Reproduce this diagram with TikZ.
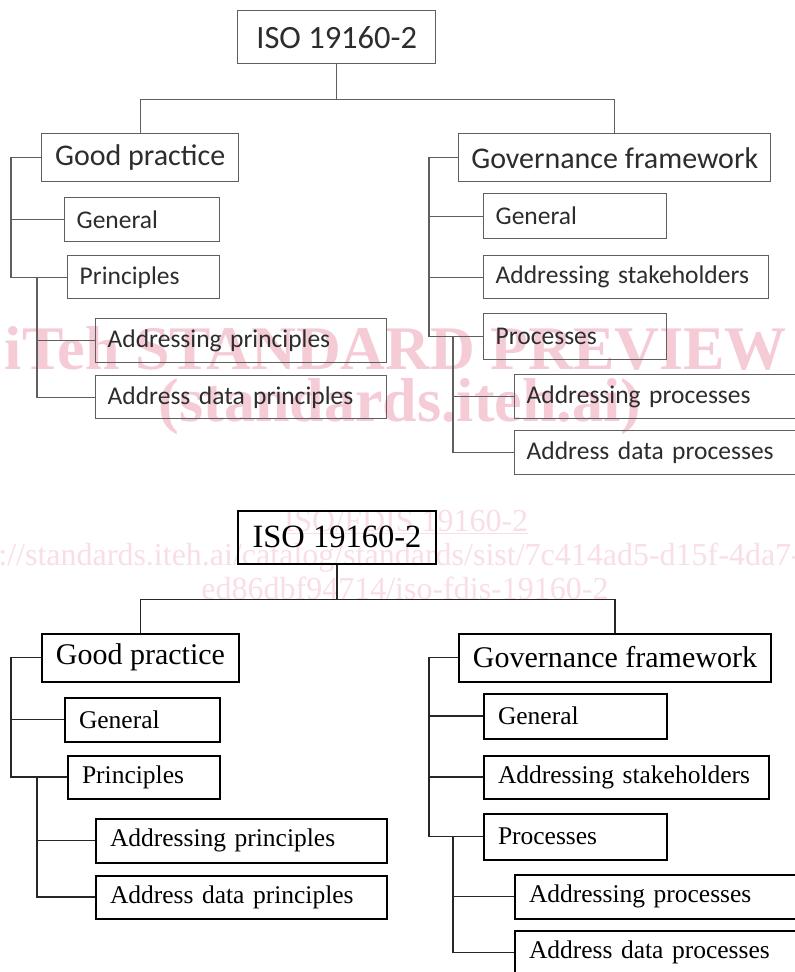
\documentclass[tikz,border=0pt]{standalone}
\usepackage{fontspec}
\setmainfont{Liberation Serif}
\newfontfamily\calibrifam{Carlito}

\definecolor{framegray}{RGB}{95,95,95}
\definecolor{inkgray}{RGB}{45,45,45}
\definecolor{wmpink}{RGB}{245,203,214}
\definecolor{wmlight}{RGB}{250,222,230}

\def\treefam{\rmfamily}
\def\boxpad{12}
\tikzset{
  treefamily/.code={\def\treefam{#1}},
  boxpad/.code={\def\boxpad{#1}},
  wh/.style 2 args={minimum width=#1pt,minimum height=#2pt},
  boxsize/.code 2 args={\pgfmathsetmacro\txtw{#1-2*\boxpad}%
    \tikzset{minimum width=#1pt,minimum height=#2pt,text width=\txtw pt}},
  boxline/.style={draw},
  link/.style={draw},
  rootbox/.style={boxline,anchor=north west,inner sep=0pt,
    font=\treefam\fontsize{32.5}{38}\selectfont},
  headbox/.style={boxline,anchor=north west,inner sep=0pt,
    font=\treefam\fontsize{30}{36}\selectfont},
  itembox/.style={boxline,anchor=north west,inner ysep=0pt,inner xsep=\boxpad pt,
    align=left,font=\treefam\fontsize{25.5}{30}\selectfont},
  wmark/.style={inner sep=0pt,text=wmpink,font=\bfseries\fontsize{62}{62}\selectfont},
  wmurl/.style={inner sep=0pt,text=wmlight,font=\fontsize{32}{32}\selectfont},
}

% one ISO 19160-2 tree, #1 is the prefix of its node names
\newcommand{\isotree}[1]{%
  \node[rootbox,wh={198}{53}] (#1root) at (237,10) {ISO 19160-2};
  \node[headbox,wh={197}{48}] (#1gp) at (41,133) {Good practice};
  \node[headbox,wh={312}{48}] (#1gf) at (458,133) {Governance framework};
  \node[itembox,boxsize={155}{44}] (#1gpgen) at (64,197) {General};
  \node[itembox,boxsize={152}{43}] (#1gpprin) at (67,255) {Principles};
  \node[itembox,boxsize={291}{44}] (#1gpap) at (95,318) {Addressing principles};
  \node[itembox,boxsize={291}{43}] (#1gpadp) at (95,375) {Address data principles};
  \node[itembox,boxsize={183}{45}] (#1gfgen) at (483,193) {General};
  \node[itembox,boxsize={285}{43}] (#1gfst) at (483,255) {Addressing stakeholders};
  \node[itembox,boxsize={183}{46}] (#1gfproc) at (483,313) {Processes};
  \node[itembox,boxsize={290}{44}] (#1gfap) at (514,374) {Addressing processes};
  \node[itembox,boxsize={290}{44}] (#1gfadp) at (514,430) {Address data processes};
  % links
  \draw[link] (#1root.south) -- ++(0,35) -| (#1gp.north);
  \draw[link] (#1root.south) -- ++(0,35) -| (#1gf.north);
  \draw[link] (#1gp.west) -- ++(-30,0) |- (#1gpgen.west);
  \draw[link] (#1gp.west) -- ++(-30,0) |- (#1gpprin.west);
  \draw[link] (#1gpprin.west) ++(-30,0) |- (#1gpap.west);
  \draw[link] (#1gpprin.west) ++(-30,0) |- (#1gpadp.west);
  \draw[link] (#1gf.west) -- ++(-29,0) |- (#1gfgen.west);
  \draw[link] (#1gf.west) -- ++(-29,0) |- (#1gfst.west);
  \draw[link] (#1gf.west) -- ++(-29,0) |- (#1gfproc.west);
  \draw[link] (#1gfproc.west) ++(-30,0) |- (#1gfap.west);
  \draw[link] (#1gfproc.west) ++(-30,0) |- (#1gfadp.west);
}

\begin{document}
\begin{tikzpicture}[x=1pt,y=-1pt]
\useasboundingbox[fill=white] (0,0) rectangle (795,972);

% preview stamp
\node[wmark,anchor=base] (stamp) at (396,369) {iTeh STANDARD PREVIEW};
\node[wmark,anchor=base] (site) at (400,421) {(standards.iteh.ai)};
\node[wmurl,anchor=base] (docid) at (406,531) {\underline{ISO/FDIS 19160-2}};
\node[wmurl,anchor=base west] (url) at (-64,565) {https://standards.iteh.ai/catalog/standards/sist/7c414ad5-d15f-4da7-};
\node[wmurl,anchor=base] (urlend) at (405,599) {ed86dbf94714/iso-fdis-19160-2};

\begin{scope}[treefamily=\calibrifam,boxpad=12,every node/.append style={text=inkgray},
  boxline/.style={draw=framegray,line width=1.4pt},
  link/.style={draw=framegray,line width=1.3pt}]
  \isotree{t}
\end{scope}

\begin{scope}[shift={(0,499.5)},treefamily=\rmfamily,boxpad=14,every node/.append style={text=black},
  boxline/.style={draw=black,line width=2pt},
  link/.style={draw=black!85,line width=1.6pt}]
  \isotree{b}
\end{scope}
\end{tikzpicture}
\end{document}
